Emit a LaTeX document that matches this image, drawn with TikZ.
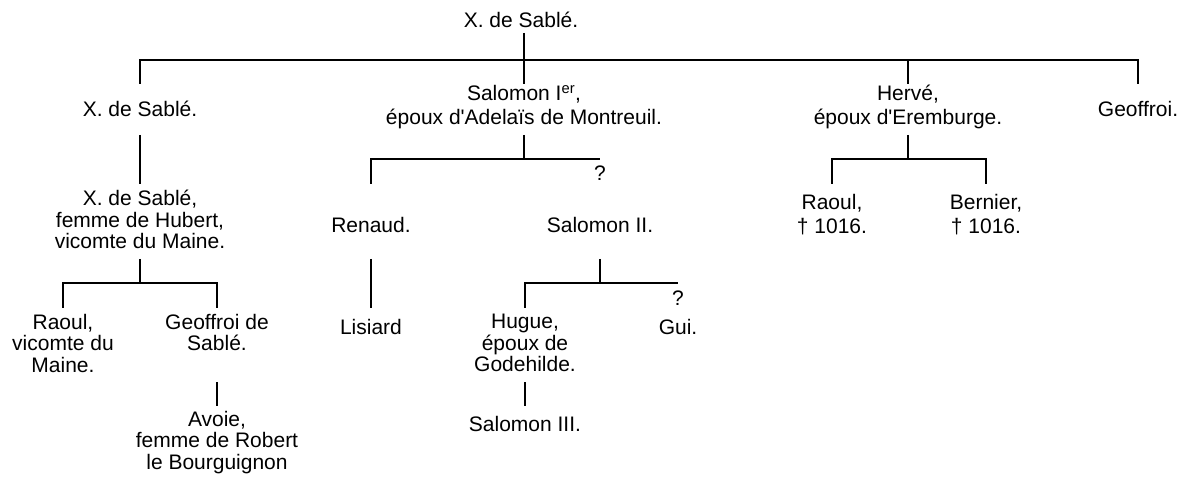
\documentclass[tikz,border=0pt]{standalone}
\usepackage{fontspec}
\newfontfamily\lbfont{Liberation Sans}
% strut that fixes the height of the first line of every name
\newcommand\topstrut{\rule{0pt}{20pt}}
\tikzset{
  person/.style={align=center, inner sep=0pt, anchor=north,
    font=\lbfont\fontsize{21}{24}\selectfont,
    execute at begin node={\lineskiplimit=-30pt\topstrut}},
  linesep/.style={font=\lbfont\fontsize{21}{#1}\selectfont},
  link/.style={draw=black, line width=2pt, line join=miter}
}
\begin{document}
\begin{tikzpicture}[x=1pt,y=-1pt]
\useasboundingbox (0,0) rectangle (1186,478);

% row levels of the connectors
\coordinate (r0) at (0,33);
\coordinate (b1) at (0,60);
\coordinate (d1) at (0,84);
\coordinate (r1) at (0,135);
\coordinate (b2) at (0,159);
\coordinate (d2) at (0,184);
\coordinate (r2) at (0,259);
\coordinate (b3) at (0,283);
\coordinate (d3) at (0,308);
\coordinate (r3) at (0,382);
\coordinate (d4) at (0,406);

% generation 0
\node[person] (root) at (521,7) {X. de Sablé.};

% generation 1
\node[person] (xs1) at (140,96) {X. de Sablé.};
\node[person] (sal) at (524,85) {Salomon I\textsuperscript{er},\\époux d'Adelaïs de Montreuil.};
\node[person] (her) at (908,85) {Hervé,\\époux d'Eremburge.};
\node[person] (geo) at (1138,96) {Geoffroi.};

% generation 2
\node[person,linesep=21.5] (xs2) at (140,190) {X. de Sablé,\\femme de Hubert,\\vicomte du Maine.};
\node[person] (ren) at (371,212) {Renaud.};
\node[person] (q1) at (600,160) {?};
\node[person] (sal2) at (600,212) {Salomon II.};
\node[person] (rao1) at (832,194) {Raoul,\\† 1016.};
\node[person] (ber) at (986,194) {Bernier,\\† 1016.};

% generation 3
\node[person,linesep=21.5] (rao2) at (63,314) {Raoul,\\vicomte du\\Maine.};
\node[person,linesep=21.5] (gds) at (217,314) {Geoffroi de\\Sablé.};
\node[person] (lis) at (371,314) {Lisiard};
\node[person,linesep=21.5] (hug) at (525,314) {Hugue,\\époux de\\Godehilde.};
\node[person] (q2) at (678,285) {?};
\node[person] (gui) at (678,314) {Gui.};

% generation 4
\node[person,linesep=21.5] (avo) at (217,411) {Avoie,\\femme de Robert\\le Bourguignon};
\node[person] (sal3) at (525,411) {Salomon III.};

% root and its children
\draw[link] (sal |- r0) -- (sal |- d1);
\draw[link] (xs1 |- d1) -- (xs1 |- b1) -- (geo |- b1) -- (geo |- d1);
\draw[link] (her |- b1) -- (her |- d1);

% children of generation 1
\draw[link] (xs1 |- r1) -- (xs2 |- d2);
\draw[link] (sal |- r1) -- (sal |- b2);
\draw[link] (ren |- d2) -- (ren |- b2) -- (q1 |- b2);
\draw[link] (her |- r1) -- (her |- b2);
\draw[link] (rao1 |- d2) -- (rao1 |- b2) -- (ber |- b2) -- (ber |- d2);

% children of generation 2
\draw[link] (xs2 |- r2) -- (xs2 |- b3);
\draw[link] (rao2 |- d3) -- (rao2 |- b3) -- (gds |- b3) -- (gds |- d3);
\draw[link] (ren |- r2) -- (lis |- d3);
\draw[link] (sal2 |- r2) -- (sal2 |- b3);
\draw[link] (hug |- d3) -- (hug |- b3) -- (q2 |- b3);

% children of generation 3
\draw[link] (gds |- r3) -- (avo |- d4);
\draw[link] (hug |- r3) -- (sal3 |- d4);
\end{tikzpicture}
\end{document}
